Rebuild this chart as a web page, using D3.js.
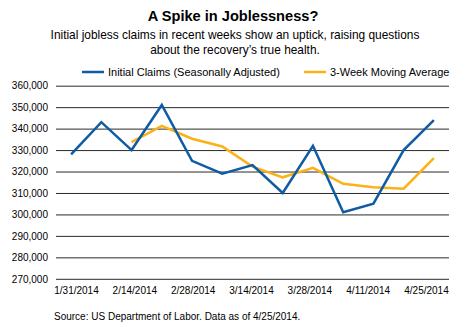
<!DOCTYPE html>
<html>
<head>
<meta charset="utf-8">
<script src="https://cdn.jsdelivr.net/npm/d3@7"></script>
<style>
    body { margin: 0; background: #fff; }
    svg text { font-family: "Liberation Sans", Arial, sans-serif; fill: #000; }
</style>
</head>
<body>
<div id="chart"></div>
<script>
(function () {
    'use strict';

    // weekly initial claims, week ending dates
    var weeks = ['1/31/2014', '2/7/2014', '2/14/2014', '2/21/2014', '2/28/2014', '3/7/2014', '3/14/2014',
        '3/21/2014', '3/28/2014', '4/4/2014', '4/11/2014', '4/18/2014', '4/25/2014'];
    var claims = [328000, 343000, 330000, 351000, 325000, 319000, 323000,
        310000, 332000, 301000, 305000, 330000, 344000];
    // 3-week average only starts once three weeks are available
    var movingAvg = [null, null, 333700, 341300, 335300, 331700, 322300,
        317300, 321700, 314300, 312700, 312000, 326300];
    var tickLabels = ['1/31/2014', '2/14/2014', '2/28/2014', '3/14/2014', '3/28/2014', '4/11/2014', '4/25/2014'];
    var yTicks = [270000, 280000, 290000, 300000, 310000, 320000, 330000, 340000, 350000, 360000];

    var width = 470;
    var height = 336;
    var margin = { top: 86, right: 21, bottom: 57, left: 56 };

    var blue = '#0f5ba4';
    var orange = '#fcb118';

    var svg = d3.select('#chart').append('svg')
        .attr('width', width)
        .attr('height', height);

    var x = d3.scalePoint()
        .domain(weeks)
        .range([margin.left, width - margin.right])
        .padding(0.5);

    // date labels get spread across the full plot width
    var xLabel = d3.scalePoint()
        .domain(tickLabels)
        .range([76, 426]);

    var y = d3.scaleLinear()
        .domain([270000, 360000])
        .range([height - margin.bottom - 0.2, margin.top - 0.3]);

    // title block
    svg.append('text')
        .attr('x', 233).attr('y', 21)
        .attr('text-anchor', 'middle')
        .style('font-size', '14.6px')
        .style('font-weight', 'bold')
        .text('A Spike in Joblessness?');

    svg.append('text')
        .attr('x', 235).attr('y', 39)
        .attr('text-anchor', 'middle')
        .style('font-size', '11.9px')
        .text('Initial jobless claims in recent weeks show an uptick, raising questions');

    svg.append('text')
        .attr('x', 235).attr('y', 54)
        .attr('text-anchor', 'middle')
        .style('font-size', '11.9px')
        .text('about the recovery\u2019s true health.');

    // legend
    var legend = [
        { label: 'Initial Claims (Seasonally Adjusted)', color: blue, x: 82 },
        { label: '3-Week Moving Average', color: orange, x: 304 }
    ];
    var leg = svg.selectAll('.legend')
        .data(legend)
        .enter()
        .append('g')
        .attr('class', 'legend')
        .attr('transform', function (d) { return 'translate(' + d.x + ',72)'; });
    leg.append('line')
        .attr('x1', 0).attr('x2', 22)
        .attr('stroke', function (d) { return d.color; })
        .attr('stroke-width', 2.5);
    leg.append('text')
        .attr('x', 26).attr('dy', '0.35em')
        .style('font-size', '11px')
        .text(function (d) { return d.label; });

    // y axis with full-width gridlines
    var yAxis = svg.append('g')
        .attr('transform', 'translate(' + margin.left + ',0)')
        .call(d3.axisLeft(y)
            .tickValues(yTicks)
            .tickSize(-(width - margin.left - margin.right))
            .tickPadding(8)
            .tickFormat(d3.format(',')));
    yAxis.select('.domain').remove();
    yAxis.selectAll('.tick line')
        .attr('stroke', '#2a2a2a')
        .attr('stroke-width', 1);
    yAxis.selectAll('.tick text')
        .style('font-size', '10px')
        .attr('fill', '#000');

    var xAxis = svg.append('g')
        .attr('transform', 'translate(0,' + (height - margin.bottom) + ')')
        .call(d3.axisBottom(xLabel).tickSize(0).tickPadding(8));
    xAxis.select('.domain').remove();
    xAxis.selectAll('.tick text')
        .style('font-size', '10px')
        .attr('fill', '#000');

    var line = d3.line()
        .defined(function (d) { return d != null; })
        .x(function (d, i) { return x(weeks[i]); })
        .y(function (d) { return y(d); });

    svg.append('path')
        .datum(movingAvg)
        .attr('fill', 'none')
        .attr('stroke', orange)
        .attr('stroke-width', 2.5)
        .attr('stroke-linejoin', 'miter')
        .attr('d', line);

    svg.append('path')
        .datum(claims)
        .attr('fill', 'none')
        .attr('stroke', blue)
        .attr('stroke-width', 2.5)
        .attr('stroke-linejoin', 'miter')
        .attr('d', line);

    svg.append('text')
        .attr('x', 54).attr('y', 320)
        .style('font-size', '10px')
        .text('Source: US Department of Labor. Data as of 4/25/2014.');
})();
</script>
</body>
</html>
